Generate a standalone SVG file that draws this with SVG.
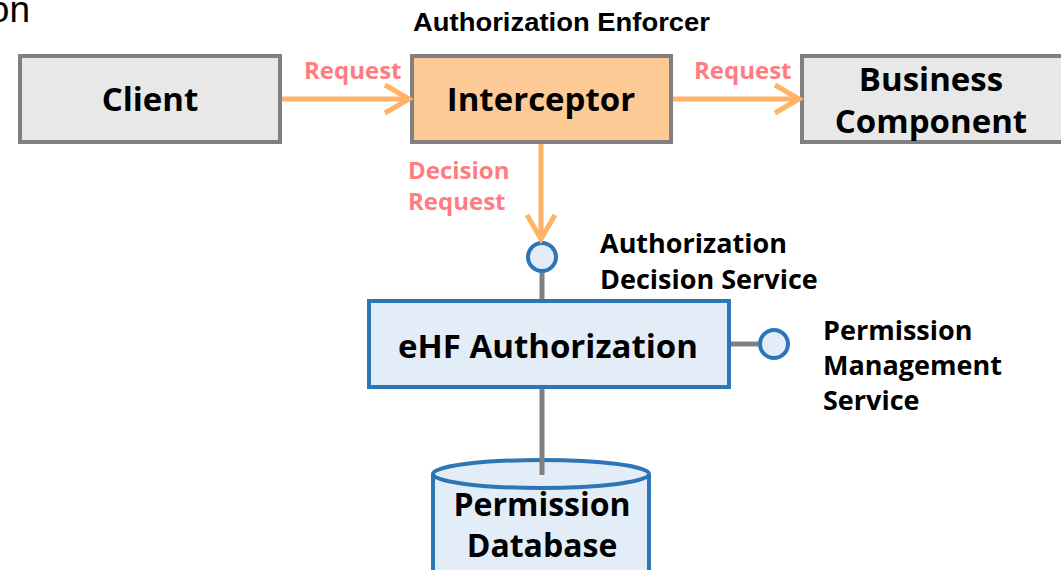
<svg xmlns="http://www.w3.org/2000/svg" width="1061" height="570" viewBox="0 0 1061 570">
<style>
.box{stroke:#808080;stroke-width:4}
.gray{fill:#e8e8e8}
.peach{fill:#fdc994}
.blue{fill:#e3edf7;stroke:#2e75b6;stroke-width:4}
.lbl{font-family:"Open Sans","DejaVu Sans",sans-serif;font-weight:700;fill:#000}
.big{font-size:33px;text-anchor:middle}
.db{font-size:32px}
.mid{font-size:27px}
.pink{font-family:"Open Sans","DejaVu Sans",sans-serif;font-weight:700;font-size:24px;fill:#ff7c80}
.arr{stroke:#ffb366;stroke-width:5;fill:none}
.conn{stroke:#808080;stroke-width:5;fill:none}
</style>
<rect width="1061" height="570" fill="#ffffff"/>
<text x="30" y="22" font-family="'Liberation Sans',Arial,sans-serif" font-size="37" text-anchor="end" fill="#000">on</text>
<text x="413" y="31" font-family="'Liberation Sans',Arial,sans-serif" font-weight="700" font-size="26" fill="#000" textLength="297" lengthAdjust="spacingAndGlyphs">Authorization Enforcer</text>

<g id="client">
<rect class="box gray" x="20" y="56" width="260" height="86"/>
<text class="lbl big" x="150" y="111">Client</text>
</g>
<g id="interceptor">
<rect class="box peach" x="412" y="56" width="259" height="86"/>
<text class="lbl big" x="541" y="111">Interceptor</text>
</g>
<g id="business">
<rect class="box gray" x="802" y="56" width="262" height="86"/>
<text class="lbl big" x="931" y="91">Business</text>
<text class="lbl big" x="931" y="133">Component</text>
</g>
<g id="ehf">
<rect class="blue" x="369" y="301" width="360" height="86"/>
<text class="lbl big" x="548" y="358">eHF Authorization</text>
</g>
<g id="database">
<path class="blue" d="M433,474 L433,580 A108,14 0 0 0 649,580 L649,474 A108,14 0 0 0 433,474 Z"/>
<path d="M433,474 A108,14 0 0 0 649,474" fill="none" stroke="#2e75b6" stroke-width="4"/>
<text class="lbl big db" x="542" y="516">Permission</text>
<text class="lbl big db" x="542" y="557">Database</text>
</g>
<g id="ads">
<circle cx="542" cy="257" r="14" fill="#e3edf7" stroke="#2e75b6" stroke-width="4"/>
<text class="lbl mid" x="600" y="253">Authorization</text>
<text class="lbl mid" x="600" y="289">Decision Service</text>
</g>
<g id="pms">
<circle cx="774" cy="344" r="14" fill="#e3edf7" stroke="#2e75b6" stroke-width="4"/>
<text class="lbl mid" x="823" y="340">Permission</text>
<text class="lbl mid" x="823" y="375">Management</text>
<text class="lbl mid" x="823" y="410">Service</text>
</g>

<g id="connectors">
<line class="arr" x1="282" y1="99" x2="406" y2="99"/>
<polyline class="arr" points="385,85 409,99 385,113"/>
<text class="pink" x="304" y="79">Request</text>
<line class="arr" x1="673" y1="99" x2="796" y2="99"/>
<polyline class="arr" points="775,85 799,99 775,113"/>
<text class="pink" x="694" y="79">Request</text>
<line class="arr" x1="541" y1="144" x2="541" y2="236"/>
<polyline class="arr" points="527,215 541,239 555,215"/>
<text class="pink" x="408" y="179">Decision</text>
<text class="pink" x="408" y="210">Request</text>
<line class="conn" x1="542" y1="273" x2="542" y2="299"/>
<line class="conn" x1="731" y1="344" x2="758" y2="344"/>
<line class="conn" x1="542" y1="389" x2="542" y2="475"/>
</g>
</svg>
